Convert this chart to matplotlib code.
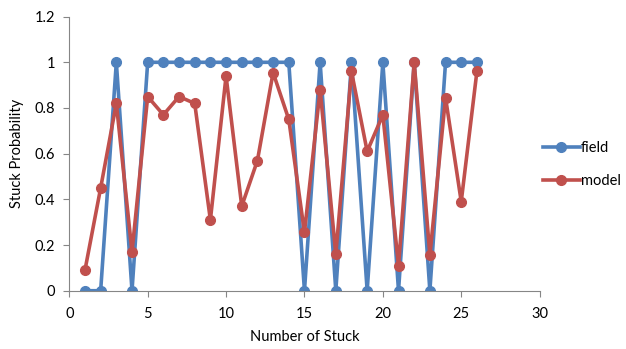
import matplotlib
matplotlib.use("Agg")
import matplotlib.pyplot as plt

plt.rcParams['font.family'] = ['Lato', 'DejaVu Sans']

stuck_no = list(range(1, 27))
field = [0, 0, 1, 0, 1, 1, 1, 1, 1, 1, 1, 1, 1, 1, 0, 1, 0, 1, 0, 1, 0, 1, 0, 1, 1, 1]
model = [0.09, 0.45, 0.82, 0.17, 0.85, 0.77, 0.85, 0.82, 0.31, 0.94, 0.37, 0.57, 0.955,
         0.75, 0.255, 0.88, 0.16, 0.96, 0.61, 0.77, 0.11, 1.0, 0.155, 0.845, 0.39, 0.96]
x_ticks = [0, 5, 10, 15, 20, 25, 30]
y_ticks = [0, 0.2, 0.4, 0.6, 0.8, 1.0, 1.2]
y_tick_labels = ['0', '0.2', '0.4', '0.6', '0.8', '1', '1.2']

blue = '#4F81BD'
red = '#C0504D'
axis_grey = '#868686'

fig = plt.figure(figsize=(6.26, 3.49), dpi=100)
ax = fig.add_axes([0.1107, 0.167, 0.7513, 0.7854])

ax.plot(stuck_no, field, color=blue, lw=2.6, marker='o', ms=7, label='field',
        solid_joinstyle='round')
ax.plot(stuck_no, model, color=red, lw=2.6, marker='o', ms=7, label='model',
        solid_joinstyle='round')

ax.set_xlim(0, 30)
ax.set_ylim(0, 1.2)
ax.set_xticks(x_ticks)
ax.set_yticks(y_ticks)
ax.set_yticklabels(y_tick_labels)

for side in ('top', 'right'):
    ax.spines[side].set_visible(False)
for side in ('left', 'bottom'):
    ax.spines[side].set_color(axis_grey)
    ax.spines[side].set_linewidth(0.8)
ax.tick_params(axis='both', colors=axis_grey, labelcolor='black', labelsize=10.5,
               length=4, width=0.8, direction='out')
ax.tick_params(axis='x', pad=8)
ax.tick_params(axis='y', pad=6)

ax.set_xlabel('Number of Stuck', fontsize=10.5, labelpad=6)
ax.set_ylabel('Stuck Probability', fontsize=10.5, labelpad=8)

ax.legend(loc='center left', bbox_to_anchor=(0.995, 0.46), frameon=False,
          fontsize=10.5, handlelength=2.5, handletextpad=0.1, labelspacing=1.3,
          borderaxespad=0.0)

fig.savefig('out.png', dpi=100)
